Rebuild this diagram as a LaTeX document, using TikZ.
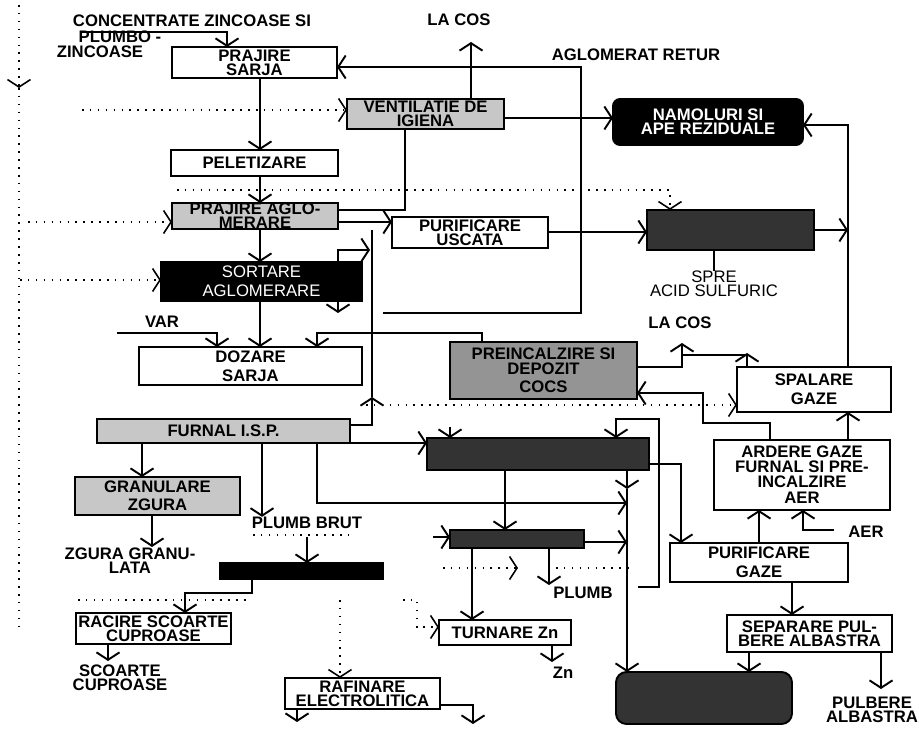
\documentclass[tikz,border=0pt]{standalone}
\usepackage{fontspec}
\setmainfont{Liberation Sans}
\usetikzlibrary{arrows.meta}
\newcommand\lab{\bfseries\fontsize{9.5}{8}\selectfont}
\newcommand\labr{\mdseries\fontsize{9.5}{8}\selectfont}
\tikzset{
  rect/.style n args={4}{minimum width={(#3-#1)*0.02cm}, minimum height={(#4-#2)*0.02cm},
                         at={({(#1+#3)/2},{(#2+#4)/2})}},
  wbox/.style={rectangle, draw, fill=white, line width=1.1pt, inner sep=0pt, outer sep=0pt,
               align=center, font=\lab},
  lgbox/.style={wbox, fill=black!22},
  mgbox/.style={wbox, fill=black!42},
  dkbox/.style={wbox, fill=black!80},
  bkbox/.style={wbox, fill=black, text=white},
  txt/.style={inner sep=0pt, align=center, font=\lab},
  flow/.style={-{Straight Barb[length=1.5mm,width=4.6mm]}, line width=1.1pt},
  flowboth/.style={{Straight Barb[length=1.5mm,width=4.6mm]}-{Straight Barb[length=1.5mm,width=4.6mm]}, line width=1.1pt},
  link/.style={line width=1.1pt},
  dots/.style={line width=0.9pt, dash pattern=on 0.9pt off 3.6pt},
  dotflow/.style={dots, -{Straight Barb[length=1.5mm,width=4.6mm]}}
}
\begin{document}
\begin{tikzpicture}[x=0.02cm, y=-0.02cm]
\useasboundingbox (0,0) rectangle (919,739);

\node[wbox, rect={172}{47}{337}{78}] (prajs) {PRAJIRE\\SARJA};
\node[lgbox, rect={347}{99}{504}{129}] (vent) {VENTILATIE DE\\IGIENA};
\node[bkbox, rounded corners=4pt, rect={613}{99}{803}{145}] (namol) {NAMOLURI SI\\APE REZIDUALE};
\node[wbox, rect={171}{150}{338}{176}] (pelet) {PELETIZARE};
\node[lgbox, rect={172}{203}{338}{229}] (prajag) {PRAJIRE AGLO-\\MERARE};
\node[wbox, rect={392}{217}{548}{248}] (puru) {PURIFICARE\\USCATA};
\node[dkbox, rect={647}{210}{814}{250}] (acid) {};
\node[bkbox, font=\labr, rect={161}{262}{362}{301}] (sort) {SORTARE\\[3pt]AGLOMERARE};
\node[wbox, rect={139}{347}{362}{385}] (doz) {DOZARE\\[3pt]SARJA};
\node[mgbox, rect={450}{342}{637}{399}] (coke) {PREINCALZIRE SI\\DEPOZIT\\[2.5pt]COCS};
\node[wbox, rect={737}{367}{891}{412}] (spal) {SPALARE\\[3pt]GAZE};
\node[lgbox, rect={97}{419}{350}{443}] (furn) {FURNAL I.S.P.};
\node[dkbox, rect={427}{438}{649}{470}] (cond) {};
\node[wbox, rect={714}{440}{890}{510}] (ard) {ARDERE GAZE\\FURNAL SI PRE-\\[1pt]INCALZIRE\\[1pt]AER};
\node[lgbox, rect={75}{477}{240}{515}] (gran) {GRANULARE\\[2.5pt]ZGURA};
\node[dkbox, rect={450}{530}{584}{548}] (sep) {};
\node[wbox, rect={670}{543}{848}{582}] (purg) {PURIFICARE\\[3pt]GAZE};
\node[bkbox, rect={220}{563}{383}{579}] (pbrut) {};
\node[wbox, rect={76}{613}{231}{644}] (racire) {RACIRE SCOARTE\\CUPROASE};
\node[wbox, rect={439}{620}{571}{645}] (turn) {TURNARE Zn};
\node[wbox, rect={727}{615}{892}{652}] (sepb) {SEPARARE PUL-\\BERE ALBASTRA};
\node[wbox, rect={285}{678}{440}{709}] (rafin) {RAFINARE\\ELECTROLITICA};
\node[dkbox, rounded corners=6pt, rect={616}{672}{792}{724}] (bot) {};

\node[txt] (conc) at (192,21) {CONCENTRATE ZINCOASE SI};
\node[txt] (plmb) at (120,37) {PLUMBO -};
\node[txt] (zinc) at (100,52) {ZINCOASE};
\node[txt] (cos1l) at (459,20) {LA COS};
\node[txt] (aglr) at (636,55) {AGLOMERAT RETUR};
\node[txt, font=\labr] (spre) at (714,284) {SPRE\\ACID SULFURIC};
\node[txt] (var) at (162,322) {VAR};
\node[txt] (cos2l) at (680,323) {LA COS};
\node[txt] (plbrut) at (307,523) {PLUMB BRUT};
\node[txt] (zgr) at (130,561) {ZGURA GRANU-\\LATA};
\node[txt] (plumb) at (583,593) {PLUMB};
\node[txt] (aer) at (866,532) {AER};
\node[txt] (scu) at (120,678) {SCOARTE\\CUPROASE};
\node[txt] (zn) at (563,673) {Zn};
\node[txt] (pulb) at (872,710) {PULBERE\\ALBASTRA};

\coordinate (cin) at (80,32);
\coordinate (cos1) at (471,42);
\coordinate (ret0) at (383,313);
\coordinate (rv) at (848,230);
\coordinate (var0) at (117,333);
\coordinate (sl) at (370,250);
\coordinate (sl2) at (338,313);
\coordinate (fv) at (372,230);
\coordinate (cos2) at (682,343);
\coordinate (plbB) at (307,537);
\coordinate (zgA) at (152,547);
\coordinate (scA) at (108,661);
\coordinate (znA) at (552,662);
\coordinate (plA) at (549,585);
\coordinate (pulA) at (881,689);
\coordinate (rafA) at (297,722);
\coordinate (rafB) at (473,724);
\coordinate (cz) at (450,427);
\coordinate (sz) at (433,537);
\coordinate (zr) at (638,587);
\coordinate (cv) at (627,489);
\coordinate (m1) at (627,503);
\coordinate (m2) at (627,542);
\coordinate (aer0) at (834,530);

\draw[flow] (cin) -- (227,32) -- (prajs.north -| 227,0);
\draw[flow] (prajs.south -| 260,0) -- (pelet.north -| 260,0);
\draw[flow] (vent.north -| 471,0) -- (cos1);
\draw[flow] (ret0) -- (581,313) -- (581,67) -- (prajs.east |- 0,67);
\draw[link] (vent.south -| 405,0) -- (405,210) -- (prajag.east |- 0,210);
\draw[flow] (vent.east |- 0,118) -- (namol.west |- 0,118);
\draw[flow] (pelet.south -| 260,0) -- (prajag.north -| 260,0);
\draw[flow] (prajag.east |- 0,222) -- (puru.west |- 0,222);
\draw[flow] (puru.east |- 0,232) -- (acid.west |- 0,232);
\draw[flow] (spal.north -| 848,0) -- (848,125) -- (namol.east |- 0,125);
\draw[flow] (acid.east |- rv) -- (rv);
\draw[link] (acid.south -| 714,0) -- (714,0 |- spre.north);
\draw[flow] (prajag.south -| 260,0) -- (sort.north -| 260,0);
\draw[flow] (sort.south -| 260,0) -- (doz.north -| 260,0);
\draw[flowboth] (sl) -- (338,250) -- (sl2);
\draw[flow] (var0) -- (217,333) -- (doz.north -| 217,0);
\draw[flow] (coke.north -| 482,0) -- (482,333) -- (317,333) -- (doz.north -| 317,0);
\draw[flow] (furn.east |- 0,425) -- (372,425) -- (372,397);
\draw[link] (372,397) -- (fv);
\draw[flow] (furn.south -| 142,0) -- (gran.north -| 142,0);
\draw[flow] (furn.south -| 262,0) -- (262,0 |- plbrut.north);
\draw[flow] (furn.south -| 317,0) -- (317,503) -- (m1);
\draw[flow] (furn.south east) -- (cond.west |- furn.south east);
\draw[flow] (cz) -- (cond.north -| cz);
\draw[flow] (zr) -- (659,587) -- (659,419) -- (616,419) -- (cond.north -| 616,0);
\draw[flow] (cond.east |- 0,464) -- (681,464) -- (purg.north -| 681,0);
\draw[flow] (cond.south -| 505,0) -- (sep.north -| 505,0);
\draw[flow] (cond.south -| cv) -- (cv);
\draw[flow] (cv) -- (bot.north -| cv);
\draw[flow] (sep.east |- m2) -- (m2);
\draw[flow] (sz) -- (sep.west |- sz);
\draw[flow] (sep.south -| 472,0) -- (turn.north -| 472,0);
\draw[flow] (sep.south -| plA) -- (plA);
\draw[flow] (turn.south -| znA) -- (znA);
\draw[flow] (purg.north -| 759,0) -- (ard.south -| 759,0);
\draw[flow] (aer0) -- (803,530) -- (ard.south -| 803,0);
\draw[flow] (ard.north -| 848,0) -- (spal.south -| 848,0);
\draw[flow] (ard.north -| 770,0) -- (770,423) -- (703,423) -- (703,393) -- (coke.east |- 0,393);
\draw[flow] (coke.east |- 0,367) -- (682,367) -- (cos2);
\draw[link] (682,355) -- (747,355);
\draw[flow] (spal.north -| 747,0) -- (747,353);
\draw[flow] (purg.south -| 792,0) -- (sepb.north -| 792,0);
\draw[flow] (sepb.south -| 749,0) -- (bot.north -| 749,0);
\draw[flow] (sepb.south -| pulA) -- (pulA);
\draw[flow] (gran.south -| zgA) -- (zgA);
\draw[flow] (plbB) -- (pbrut.north -| plbB);
\draw[flow] (pbrut.south -| 252,0) -- (252,593) -- (185,593) -- (racire.north -| 185,0);
\draw[flow] (racire.south -| scA) -- (scA);
\draw[flow] (rafin.south -| rafA) -- (rafA);
\draw[flow] (rafin.east |- 0,705) -- (473,705) -- (rafB);

\draw[dotflow] (19,5) -- (19,88);
\draw[dots] (19,88) -- (19,632);
\draw[dotflow] (82,110) -- (vent.west |- 0,110);
\draw[dotflow] (177,190) -- (670,190) -- (acid.north -| 670,0);
\draw[dotflow] (28,222) -- (prajag.west |- 0,222);
\draw[dotflow] (20,280) -- (sort.west |- 0,280);
\draw[dotflow] (366,405) -- (spal.west |- 0,405);
\draw[dots] (253,535) -- (348,535);
\draw[dotflow] (443,568) -- (518,568);
\draw[dots] (556,568) -- (631,568);
\draw[dots] (78,600) -- (248,600);
\draw[dotflow] (340,600) -- (rafin.north -| 340,0);
\draw[dotflow] (403,600) -- (417,600) -- (417,627) -- (turn.west |- 0,627);
\end{tikzpicture}
\end{document}
